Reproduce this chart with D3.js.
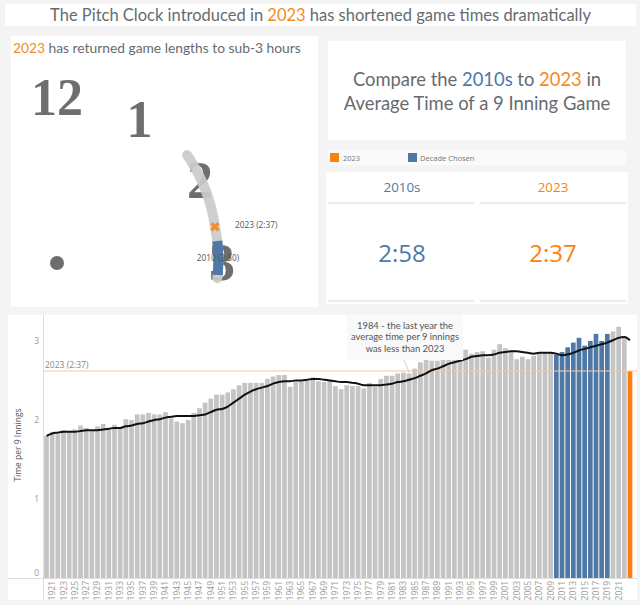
<!DOCTYPE html>
<html>
<head>
<meta charset="utf-8">
<script src="https://d3js.org/d3.v7.min.js"></script>
<style>
  html, body { margin: 0; padding: 0; background: #f4f4f4; }
  svg { display: block; }
  text { font-family: "Open Sans", sans-serif; }
  .lato { font-family: Lato, sans-serif; }
</style>
</head>
<body>
<div id="container"></div>
<script>
/* DATA */
const years = d3.range(1920, 2024);
const avgTime = [
  1.80, 1.85, 1.82, 1.87, 1.86, 1.88, 1.93, 1.90, 1.87, 1.92,
  1.95, 1.89, 1.94, 1.91, 2.01, 2.00, 2.07, 2.07, 2.09, 2.07,
  2.07, 2.10, 2.02, 1.98, 1.96, 2.00, 2.09, 2.15, 2.22, 2.27,
  2.32, 2.32, 2.35, 2.39, 2.44, 2.47, 2.47, 2.47, 2.47, 2.52,
  2.55, 2.57, 2.57, 2.42, 2.48, 2.49, 2.51, 2.54, 2.49, 2.48,
  2.50, 2.43, 2.39, 2.44, 2.43, 2.43, 2.40, 2.47, 2.42, 2.52,
  2.56, 2.56, 2.59, 2.60, 2.59, 2.65, 2.73, 2.76, 2.75, 2.75,
  2.76, 2.82, 2.82, 2.80, 2.89, 2.84, 2.86, 2.87, 2.79, 2.89,
  2.96, 2.91, 2.86, 2.77, 2.80, 2.77, 2.81, 2.86, 2.86, 2.86,
  2.83, 2.86, 2.92, 2.98, 3.04, 2.94, 3.00, 3.09, 3.00, 3.09,
  3.12, 3.18, 3.04, 2.62
];
const trend = [
  1.80, 1.83, 1.84, 1.85, 1.85, 1.85, 1.86, 1.87, 1.87, 1.87,
  1.88, 1.89, 1.90, 1.90, 1.92, 1.93, 1.95, 1.96, 1.98, 2.00,
  2.01, 2.03, 2.04, 2.05, 2.05, 2.05, 2.05, 2.06, 2.07, 2.10,
  2.13, 2.14, 2.17, 2.22, 2.27, 2.32, 2.36, 2.39, 2.41, 2.43,
  2.46, 2.48, 2.49, 2.49, 2.50, 2.50, 2.51, 2.52, 2.52, 2.51,
  2.50, 2.49, 2.48, 2.48, 2.47, 2.46, 2.44, 2.44, 2.44, 2.44,
  2.45, 2.46, 2.48, 2.49, 2.51, 2.53, 2.56, 2.59, 2.63, 2.65,
  2.68, 2.71, 2.73, 2.75, 2.77, 2.80, 2.81, 2.82, 2.82, 2.83,
  2.85, 2.86, 2.87, 2.87, 2.86, 2.85, 2.84, 2.85, 2.85, 2.85,
  2.84, 2.82, 2.83, 2.85, 2.88, 2.90, 2.92, 2.94, 2.96, 2.98,
  3.01, 3.04, 3.05, 3.01
];
const decadeYears = d3.range(2010, 2020);
const pitchClockYear = 2023;
const pitchClockTime = 2.62;
const xTickYears = d3.range(1921, 2022, 2);
const yTicks = [0, 1, 2, 3];
const clockHours = [12, 1, 2, 3];

/* CONSTANTS AND GLOBALS */
const width = 640, height = 605;
const GREY = "#c4c4c4", BLUE = "#4e79a7", ORANGE = "#ff7f0e", TEXT = "#666b70";

const svg = d3.select("#container").append("svg")
  .attr("width", width)
  .attr("height", height)
  .style("background-color", "#f4f4f4");

const panel = (x, y, w, h, fill = "#fff") => svg.append("rect")
  .attr("x", x).attr("y", y).attr("width", w).attr("height", h).attr("fill", fill);

// multi coloured line of text, parts are [string, colour]
const richText = (x, y, size, anchor, parts) => {
  const t = svg.append("text").attr("x", x).attr("y", y)
    .attr("font-size", size).attr("text-anchor", anchor);
  parts.forEach(p => t.append("tspan").attr("fill", p[1]).text(p[0]));
  return t;
};

/* PANELS */
panel(5, 4, 631, 22);
panel(11, 36, 307, 271);
panel(328, 41, 298, 99);
panel(328, 150, 298, 15, "#fafafa");
panel(326, 172, 302, 132);
panel(8, 315, 629, 285);

/* HEADINGS */
richText(320.5, 21, 16.5, "middle", [
  ["The Pitch Clock introduced in ", TEXT], ["2023", "#f58a24"],
  [" has shortened game times dramatically", TEXT]
]).attr("class", "lato");
richText(13, 53, 13.8, "start", [
  ["2023", "#f58a24"], [" has returned game lengths to sub-3 hours", TEXT]
]).attr("class", "lato");
richText(477, 86, 18.4, "middle", [
  ["Compare the ", TEXT], ["2010s", BLUE], [" to ", TEXT], ["2023", "#f58a24"], [" in", TEXT]
]).attr("class", "lato");
richText(477, 110, 18.4, "middle", [["Average Time of a 9 Inning Game", TEXT]]).attr("class", "lato");

/* LEGEND */
panel(330, 153, 9, 9, ORANGE);
richText(343, 161, 7.5, "start", [["2023", "#777"]]);
panel(408, 153, 9, 9, BLUE);
richText(420, 161, 7.5, "start", [["Decade Chosen", "#777"]]);

/* KPI TILES */
const decadeMean = "2:58", pitchClockLabel = "2:37";
[[402, "2010s", decadeMean, BLUE, 328], [553, "2023", pitchClockLabel, ORANGE, 480]].forEach(k => {
  richText(k[0], 192, 13.4, "middle", [[k[1], k[3]]]);
  richText(k[0], 262, 24, "middle", [[k[2], k[3]]]);
  [203, 301].forEach(y => svg.append("line")
    .attr("x1", k[4]).attr("x2", k[4] + 146).attr("y1", y).attr("y2", y)
    .attr("stroke", "#d9d9d9"));
});

/* CLOCK */
const clock = svg.append("g").attr("transform", "translate(57,263)");
const rad = deg => deg * Math.PI / 180;
const hourAngle = h => rad((h % 12) * 30);
const clockR = 165;

clock.selectAll("text.hour")
  .data(clockHours)
  .join("text")
  .attr("class", "hour")
  .attr("x", d => clockR * Math.sin(hourAngle(d)))
  .attr("y", d => -clockR * Math.cos(hourAngle(d)))
  .attr("dy", "0.33em")
  .attr("text-anchor", "middle")
  .style("font-family", '"Liberation Serif", serif')
  .style("font-weight", "bold")
  .style("font-size", "52px")
  .attr("fill", "#6e6e6e")
  .text(d => d);

clock.append("circle").attr("r", 7).attr("fill", "#6e6e6e");

// time on the clock face; the arc is not quite round about the centre dot
const angleScale = d3.scaleLinear().domain([1.80, 3.18]).range([rad(50.3), rad(95.4)]);
const radiusScale = d3.scaleLinear().domain([1.80, 2.62, 3.18]).range([169, 162, 161]);
const arcLine = d3.lineRadial()
  .angle(d => angleScale(d))
  .radius(d => radiusScale(d))
  .curve(d3.curveBasis);

const sortedTimes = d3.sort(avgTime);
clock.append("path")
  .attr("d", arcLine(sortedTimes))
  .attr("fill", "none")
  .attr("stroke", "#cbcbcb")
  .attr("stroke-opacity", 0.92)
  .attr("stroke-width", 10)
  .attr("stroke-linecap", "round");

const decadeTimes = d3.sort(years.map((y, i) => decadeYears.includes(y) ? avgTime[i] : null).filter(v => v !== null));
clock.append("path")
  .attr("d", arcLine(decadeTimes))
  .attr("fill", "none")
  .attr("stroke", BLUE)
  .attr("stroke-width", 10)
  .attr("stroke-linecap", "square");

const polarX = v => radiusScale(v) * Math.sin(angleScale(v));
const polarY = v => -radiusScale(v) * Math.cos(angleScale(v));

clock.append("path")
  .attr("d", d3.symbol(d3.symbolCross, 55)())
  .attr("transform", `translate(${polarX(pitchClockTime)},${polarY(pitchClockTime)}) rotate(45)`)
  .attr("fill", "#f28e2b");

richText(235, 228, 8.3, "start", [["2023 (2:37)", "#555"]]);
richText(218, 261, 8.3, "middle", [["2010 (2:50)", "#555"]]);

/* BAR CHART SCALES */
const xScale = d3.scaleBand()
  .domain(years)
  .range([43.7, 632.8])
  .paddingInner(0.17)
  .paddingOuter(0.085);

const yScale = d3.scaleLinear()
  .domain([0, 3])
  .range([578, 341]);

const barColor = y => y === pitchClockYear ? ORANGE : decadeYears.includes(y) ? BLUE : GREY;

/* BARS */
svg.selectAll("rect.bar")
  .data(years)
  .join("rect")
  .attr("class", "bar")
  .attr("x", d => xScale(d))
  .attr("y", (d, i) => yScale(avgTime[i]))
  .attr("width", xScale.bandwidth())
  .attr("height", (d, i) => yScale(0) - yScale(avgTime[i]))
  .attr("fill", barColor);

/* REFERENCE LINE */
svg.append("line")
  .attr("x1", 44).attr("x2", 637)
  .attr("y1", yScale(pitchClockTime)).attr("y2", yScale(pitchClockTime))
  .attr("stroke", "#f6c79c")
  .attr("stroke-opacity", 0.7)
  .attr("stroke-width", 1.5);
richText(45, yScale(pitchClockTime) - 3.5, 8.5, "start", [["2023 (2:37)", "#888"]]);

/* TREND LINE */
const trendLine = d3.line()
  .x((d, i) => xScale(years[i]) + xScale.bandwidth() / 2)
  .y(d => yScale(d))
  .curve(d3.curveMonotoneX);

svg.append("path")
  .attr("d", trendLine(trend))
  .attr("fill", "none")
  .attr("stroke", "#111")
  .attr("stroke-width", 2);

/* AXES */
const xAxis = d3.axisBottom(xScale).tickValues(xTickYears).tickSize(0).tickPadding(3);
const yAxis = d3.axisLeft(yScale).tickValues(yTicks).tickFormat(d3.format("d")).tickSize(0).tickPadding(4);

const gx = svg.append("g").attr("transform", "translate(0,578)").call(xAxis);
gx.select(".domain").remove();
gx.selectAll("text")
  .attr("transform", "rotate(-90)")
  .attr("x", -3)
  .attr("y", 0)
  .attr("dy", "0.35em")
  .attr("text-anchor", "end")
  .attr("fill", "#999")
  .style("font-size", "8.5px");

const gy = svg.append("g").attr("transform", "translate(43,0)").call(yAxis);
gy.select(".domain").remove();
gy.selectAll("text")
  .attr("fill", "#999")
  .style("font-size", "8.5px")
  .attr("dy", d => d === 0 ? "-0.3em" : "0.32em");

svg.append("line").attr("x1", 43.5).attr("x2", 43.5).attr("y1", 315).attr("y2", 600)
  .attr("stroke", "#ddd");
svg.append("line").attr("x1", 8).attr("x2", 637).attr("y1", 578.5).attr("y2", 578.5)
  .attr("stroke", "#ddd");

svg.append("text")
  .attr("transform", "translate(21,445) rotate(-90)")
  .attr("text-anchor", "middle")
  .attr("fill", "#555")
  .attr("font-size", 8.5)
  .text("Time per 9 Innings");

/* ANNOTATION */
const noteYear = 1984;
const noteLines = ["1984 - the last year the", "average time per 9 innings", "was less than 2023"];
panel(347, 315, 116, 45, "#f9f9f9");
svg.append("line")
  .attr("x1", 404).attr("y1", 360)
  .attr("x2", xScale(noteYear) + xScale.bandwidth() / 2).attr("y2", 372)
  .attr("stroke", "#bbb")
  .attr("stroke-width", 0.7);
noteLines.forEach((s, i) => richText(405, 329 + i * 11.3, 9.4, "middle", [[s, "#555"]]).attr("class", "lato"));
</script>
</body>
</html>
